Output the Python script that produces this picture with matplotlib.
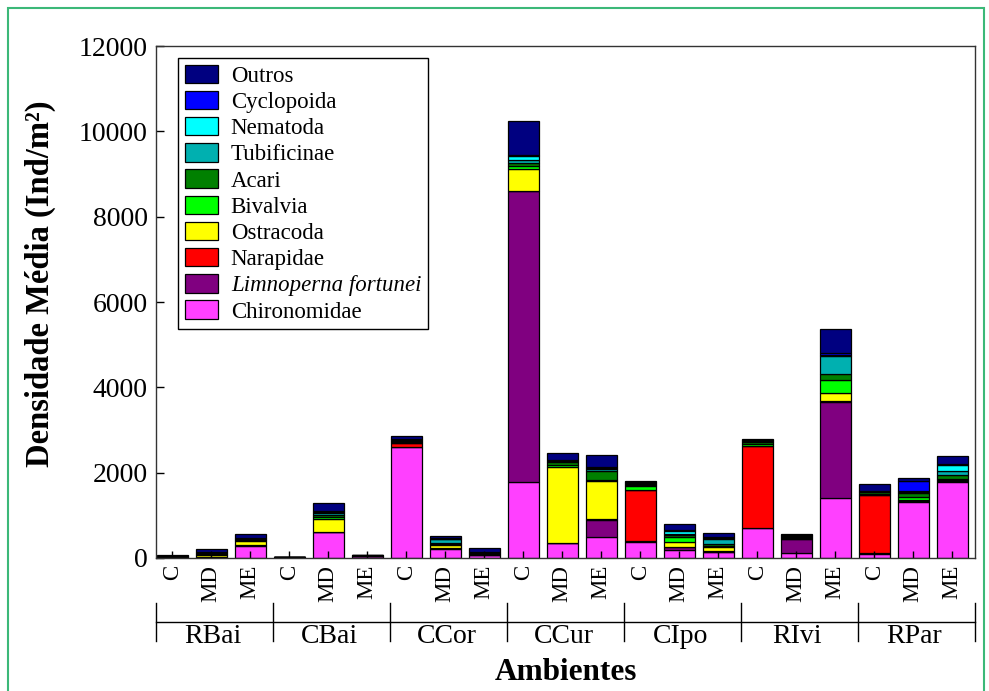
import matplotlib
matplotlib.use("Agg")
import matplotlib.pyplot as plt
import numpy as np
from matplotlib.patches import Rectangle

plt.rcParams['font.family'] = ['Liberation Serif', 'DejaVu Serif']

# sites and sampling sets
ambientes = ["RBai", "CBai", "CCor", "CCur", "CIpo", "RIvi", "RPar"]
tratamentos = ["C", "MD", "ME"]

# mean density (ind/m2) per taxon, 21 bars: site x treatment
chironomidae = [20, 20, 290, 15, 600, 50, 2590, 220, 70, 1780, 340, 490, 380, 190, 130, 700, 110, 1400, 100, 1320, 1790]
limnoperna = [5, 5, 10, 0, 10, 0, 10, 10, 5, 6820, 10, 410, 10, 60, 20, 10, 330, 2260, 10, 10, 10]
narapidae = [0, 5, 10, 0, 10, 0, 90, 5, 5, 10, 10, 10, 1200, 10, 10, 1910, 10, 10, 1360, 10, 10]
ostracoda = [5, 50, 90, 5, 300, 0, 10, 70, 10, 510, 1770, 900, 10, 120, 90, 10, 10, 190, 10, 20, 20]
bivalvia = [5, 10, 10, 0, 30, 0, 10, 20, 5, 60, 60, 20, 85, 110, 20, 40, 10, 310, 20, 70, 30]
acari = [5, 20, 30, 5, 60, 5, 40, 30, 20, 80, 50, 210, 20, 50, 50, 60, 30, 140, 40, 100, 80]
tubificinae = [5, 10, 10, 0, 40, 5, 20, 80, 10, 80, 30, 40, 40, 30, 120, 20, 20, 415, 10, 20, 110]
nematoda = [0, 5, 5, 0, 20, 0, 10, 20, 5, 90, 20, 30, 20, 60, 40, 10, 10, 40, 10, 10, 130]
cyclopoida = [0, 5, 5, 0, 20, 0, 10, 10, 10, 20, 10, 30, 10, 20, 20, 10, 10, 50, 10, 240, 20]
outros = [15, 80, 110, 5, 210, 10, 60, 40, 100, 800, 160, 270, 30, 140, 90, 20, 20, 550, 170, 80, 200]

series = [
    ("Chironomidae", chironomidae, "#ff40ff"),
    ("Limnoperna fortunei", limnoperna, "#800080"),
    ("Narapidae", narapidae, "#ff0000"),
    ("Ostracoda", ostracoda, "#ffff00"),
    ("Bivalvia", bivalvia, "#00ff00"),
    ("Acari", acari, "#008000"),
    ("Tubificinae", tubificinae, "#00b0b0"),
    ("Nematoda", nematoda, "#00ffff"),
    ("Cyclopoida", cyclopoida, "#0000ff"),
    ("Outros", outros, "#000080"),
]

fig = plt.figure(figsize=(9.89, 6.91), dpi=100)
ax = fig.add_axes([0.1577, 0.1925, 0.8281, 0.7409])

n = len(ambientes) * len(tratamentos)
x = np.arange(n) + 0.02
w = 0.79
bottom = np.zeros(n)
handles = []
for name, vals, col in series:
    vals = np.array(vals, dtype=float)
    b = ax.bar(x, vals, width=w, bottom=bottom, align='edge', color=col,
               edgecolor='black', linewidth=0.9, label=name)
    handles.append(b)
    bottom += vals

ax.set_xlim(0, n)
ax.set_ylim(0, 12000)
ax.set_yticks(np.arange(0, 12001, 2000))
ax.set_xticks(x + w / 2)
ax.set_xticklabels(tratamentos * len(ambientes), rotation=90, fontsize=16.5)
ax.tick_params(axis='y', direction='in', length=6, width=1, labelsize=20, pad=6)
ax.tick_params(axis='x', direction='in', length=5, width=1, pad=5)
for s in ax.spines.values():
    s.set_linewidth(1.0)
    s.set_color('#333333')

ax.set_ylabel("Densidade Média (Ind/m²)", fontsize=23.5, fontweight='bold')
ax.yaxis.set_label_coords(-0.122, 0.535)

# group bracket below the tick labels
trans = ax.get_xaxis_transform()
ax.plot([0, n], [-0.125, -0.125], color='black', lw=1.0, clip_on=False, transform=trans)
for k in range(len(ambientes) + 1):
    ax.plot([3 * k, 3 * k], [-0.088, -0.162], color='black', lw=1.0,
            clip_on=False, transform=trans)
for k, nome in enumerate(ambientes):
    ax.text(3 * k + 1.45, -0.154, nome, transform=trans, ha='center',
            va='center', fontsize=20)
ax.text(n / 2, -0.223, "Ambientes", transform=trans, ha='center',
        va='center', fontsize=22.5, fontweight='bold')

leg = ax.legend(handles[::-1], [s[0] for s in series[::-1]], loc='upper left',
                bbox_to_anchor=(0.027, 0.977), borderaxespad=0, fontsize=16.5,
                handlelength=1.45, handleheight=0.85, labelspacing=0.18,
                handletextpad=0.55, borderpad=0.3, fancybox=False,
                edgecolor='black', framealpha=1)
leg.get_frame().set_linewidth(1.0)
for t in leg.get_texts():
    if t.get_text() == "Limnoperna fortunei":
        t.set_fontstyle('italic')

# green frame around the figure
fig.patches.append(Rectangle((0.008, -0.01), 0.987, 0.998, transform=fig.transFigure,
                             fill=False, edgecolor='#3cb878', linewidth=1.5))

fig.savefig("out.png", dpi=100)
